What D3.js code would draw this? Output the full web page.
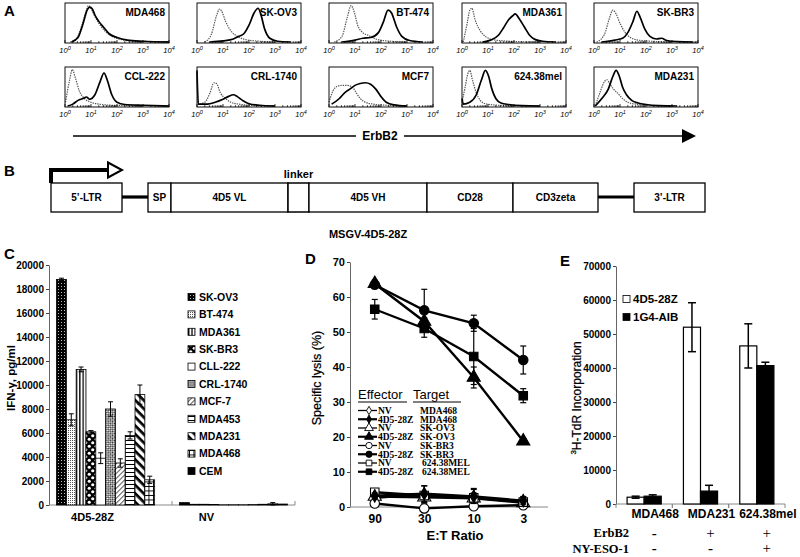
<!DOCTYPE html>
<html><head><meta charset="utf-8">
<script src="https://cdn.jsdelivr.net/npm/d3@7"></script>
<style>body{margin:0;background:#fff;}svg{display:block;}</style>
</head><body>
<svg id="fig" width="800" height="557"></svg>
<script>
// ================= DATA =================
// Panel A: flow histograms  ([log10 intensity, relative count])
const histNames = ["MDA468","SK-OV3","BT-474","MDA361","SK-BR3","CCL-222","CRL-1740","MCF7","624.38mel","MDA231"];
const histControl = [
  [[0.2,0],[0.45,0.1],[0.65,0.45],[0.8,0.8],[0.9,0.97],[1.0,0.9],[1.1,0.75],[1.3,0.5],[1.5,0.32],[1.8,0.15],[2.2,0.06],[2.7,0.02],[3.5,0.01],[4,0]],
  [[0.3,0],[0.55,0.2],[0.75,0.7],[0.87,0.88],[0.95,0.82],[1.1,0.55],[1.3,0.3],[1.55,0.15],[1.9,0.06],[2.4,0.02],[3,0]],
  [[0.2,0],[0.5,0.15],[0.7,0.65],[0.85,0.97],[0.97,0.8],[1.1,0.45],[1.3,0.25],[1.5,0.18],[1.8,0.08],[2.2,0.03],[3,0]],
  [[0.05,0],[0.2,0.5],[0.3,0.85],[0.38,0.9],[0.5,0.6],[0.7,0.3],[0.9,0.15],[1.2,0.06],[1.6,0.03],[2.2,0.01],[3,0]],
  [[0.1,0],[0.4,0.2],[0.6,0.65],[0.72,0.85],[0.85,0.75],[1.0,0.5],[1.2,0.25],[1.4,0.12],[1.7,0.05],[2.2,0.02],[3,0]],
  [[0.02,0.1],[0.18,0.7],[0.28,0.97],[0.4,0.75],[0.55,0.4],[0.75,0.2],[1.0,0.1],[1.3,0.05],[1.8,0.02],[2.5,0.01],[3,0]],
  [[0.0,0.9],[0.05,0.05],[0.3,0.1],[0.5,0.35],[0.65,0.62],[0.75,0.6],[0.9,0.35],[1.1,0.2],[1.3,0.1],[1.6,0.05],[2.0,0.02],[2.5,0]],
  [[0.0,0.1],[0.15,0.4],[0.3,0.52],[0.5,0.55],[0.7,0.55],[0.9,0.5],[1.05,0.35],[1.2,0.2],[1.4,0.1],[1.7,0.05],[2.2,0.02],[3,0]],
  [[0.0,0.1],[0.12,0.5],[0.22,0.85],[0.3,0.95],[0.4,0.7],[0.55,0.35],[0.7,0.15],[0.9,0.06],[1.2,0.03],[1.8,0.01],[2.5,0]],
  [[0.05,0],[0.25,0.4],[0.4,0.65],[0.5,0.7],[0.6,0.6],[0.75,0.45],[0.9,0.35],[1.1,0.2],[1.3,0.1],[1.6,0.05],[2.0,0.02],[2.6,0]]
];
const histStain = [
  [[0.25,0],[0.5,0.12],[0.7,0.5],[0.85,0.85],[0.95,0.93],[1.05,0.88],[1.15,0.72],[1.3,0.55],[1.5,0.38],[1.7,0.22],[2.0,0.12],[2.4,0.05],[3.0,0.02],[4,0]],
  [[0.5,0],[1.0,0.03],[1.4,0.08],[1.6,0.15],[1.8,0.22],[2.0,0.45],[2.2,0.78],[2.35,0.9],[2.45,0.75],[2.6,0.35],[2.8,0.1],[3.1,0.02],[3.6,0]],
  [[0.5,0],[1.0,0.05],[1.3,0.1],[1.6,0.12],[1.9,0.25],[2.1,0.55],[2.27,0.85],[2.4,0.78],[2.6,0.4],[2.8,0.15],[3.1,0.04],[3.6,0]],
  [[0.8,0],[1.1,0.05],[1.4,0.18],[1.6,0.38],[1.8,0.6],[1.95,0.7],[2.05,0.75],[2.2,0.62],[2.4,0.4],[2.6,0.18],[2.8,0.07],[3.1,0.02],[3.6,0]],
  [[0.3,0],[0.8,0.05],[1.1,0.1],[1.3,0.25],[1.5,0.55],[1.65,0.82],[1.78,0.65],[1.95,0.35],[2.15,0.15],[2.4,0.08],[2.6,0.1],[2.8,0.04],[3.2,0.01],[3.8,0]],
  [[0.1,0],[0.3,0.05],[0.5,0.15],[0.7,0.2],[0.82,0.24],[0.95,0.18],[1.15,0.3],[1.35,0.65],[1.5,0.88],[1.62,0.7],[1.8,0.3],[2.0,0.1],[2.3,0.04],[3.0,0.02],[4,0]],
  [[0.0,0.95],[0.05,0.05],[0.4,0.05],[0.7,0.1],[1.0,0.18],[1.2,0.25],[1.4,0.3],[1.55,0.25],[1.75,0.15],[2.0,0.06],[2.4,0.02],[3,0]],
  [[0.1,0.05],[0.4,0.2],[0.6,0.35],[0.8,0.45],[1.0,0.55],[1.2,0.6],[1.4,0.62],[1.6,0.58],[1.8,0.45],[2.0,0.25],[2.2,0.1],[2.5,0.03],[3,0]],
  [[0.0,0.2],[0.05,0.05],[0.3,0.1],[0.55,0.3],[0.75,0.7],[0.9,0.95],[1.02,0.8],[1.15,0.45],[1.3,0.2],[1.5,0.08],[1.8,0.04],[2.3,0.01],[3,0]],
  [[0.05,0],[0.3,0.2],[0.55,0.45],[0.72,0.78],[0.85,0.95],[0.97,0.8],[1.1,0.5],[1.25,0.3],[1.45,0.15],[1.7,0.08],[2.0,0.04],[2.5,0.01],[3.2,0]]
];
const logTicks = [0,1,2,3,4];

// Panel B: vector map
const vectorParts   = ["5\u2019-LTR","","SP","4D5 VL","","4D5 VH","CD28","CD3zeta","","3\u2019-LTR"];
const vectorLengths = [71,26,23,117,21,118,86,85,36,71];
const vectorKinds   = ["box","link","box","box","box","box","box","box","link","box"];

// Panel C: IFN-gamma release
const groupsC = ["4D5-28Z","NV"];
const cellLines = ["SK-OV3","BT-474","MDA361","SK-BR3","CLL-222","CRL-1740","MCF-7","MDA453","MDA231","MDA468","CEM"];
const ifn4D5    = [18800,7100,11300,6100,3900,8000,3500,5800,9200,2100,0];
const ifn4D5Err = [100,500,200,100,450,600,350,300,800,300,0];
const ifnNV     = [200,60,60,40,20,20,20,30,60,100,80];
const ifnNVErr  = [0,0,0,0,0,0,0,0,0,100,0];
const ifnTicks  = [0,2000,4000,6000,8000,10000,12000,14000,16000,18000,20000];

// Panel D: cytotoxicity
const etRatios = ["90","30","10","3"];
const lysisEffector = ["NV","4D5-28Z","NV","4D5-28Z","NV","4D5-28Z","NV","4D5-28Z"];
const lysisTarget   = ["MDA468","MDA468","SK-OV3","SK-OV3","SK-BR3","SK-BR3","624.38MEL","624.38MEL"];
const lysisNV_MDA468   = [2.6,3.6,2.8,1.5];
const lysis28Z_MDA468  = [3.2,3.8,3.0,1.8];
const lysisNV_SKOV3    = [3.0,2.8,2.5,1.2];
const lysis28Z_SKOV3   = [63.8,53.0,37.0,18.8];
const lysisNV_SKBR3    = [1.0,-0.4,0.2,0.5];
const lysis28Z_SKBR3   = [63.5,56.2,52.5,42.0];
const lysisNV_624      = [4.2,3.3,2.6,1.4];
const lysis28Z_624     = [56.5,51.0,43.0,31.8];
const errNV_MDA468  = [0.8,2.5,2.5,1.5];
const err28Z_MDA468 = [0.8,2.2,2.0,1.0];
const errNV_SKOV3   = [1,1.5,1.5,1.5];
const err28Z_SKOV3  = [1,1,3,0.6];
const errNV_SKBR3   = [0.5,1.2,0.5,0.5];
const err28Z_SKBR3  = [1,6,2.3,4];
const errNV_624     = [0.5,1,1,1];
const err28Z_624    = [2.8,2.5,8,2];
const lysisTicks = [0,10,20,30,40,50,60,70];

// Panel E: proliferation
const targetsE = ["MDA468","MDA231","624.38mel"];
const effectorsE = ["4D5-28Z","1G4-AIB"];
const prolif4D5    = [2000,52000,46500];
const prolif4D5Err = [300,7200,6500];
const prolif1G4    = [2300,3800,40700];
const prolif1G4Err = [400,1700,1000];
const erbb2Status  = ["-","+","+"];
const nyesoStatus  = ["-","-","+"];
const prolifTicks  = [0,10000,20000,30000,40000,50000,60000,70000];

// ================= DRAWING =================
const SANS = "Arial, 'Liberation Sans', Helvetica, sans-serif";
const NARROW = "'Liberation Sans Narrow', 'Arial Narrow', Arial, 'Liberation Sans', sans-serif";
const SERIF = "'Times New Roman', 'Liberation Serif', serif";
const svg = d3.select("#fig");
svg.append("rect").attr("width",800).attr("height",557).attr("fill","#fff");
const defs = svg.append("defs");

function txt(g, t, x, y, size, opts={}) {
  return g.append("text").attr("x",x).attr("y",y).text(t)
    .attr("font-family", opts.family || SANS)
    .attr("font-weight", opts.weight || "bold")
    .attr("font-size", size)
    .attr("text-anchor", opts.anchor || "start")
    .attr("fill","#000");
}
// panel letters
txt(svg,"A",4,16,15); txt(svg,"B",4,176,15); txt(svg,"C",4,259,15); txt(svg,"D",305,264,15); txt(svg,"E",560,266,15);

// ---------- Panel A ----------
const colX = [65,197,329,462,594];
const rowY = [3,67];
const boxW = 104, boxH = 40;
histNames.forEach((name,i)=>{
  const r = Math.floor(i/5), c = i%5;
  const x0 = colX[c], y0 = rowY[r];
  const xs = d3.scaleLog().domain([1,1e4]).range([x0, x0+boxW]);
  const ys = d3.scaleLinear().domain([0,1]).range([y0+boxH-1, y0+1.5]);
  const g = svg.append("g");
  const line = d3.line().x(d=>xs(Math.pow(10,d[0]))).y(d=>ys(d[1])).curve(d3.curveMonotoneX);
  g.append("path").attr("d", line(histControl[i])).attr("fill","none")
    .attr("stroke","#555").attr("stroke-width",1.2).attr("stroke-dasharray","1.4,1");
  g.append("path").attr("d", line(histStain[i])).attr("fill","none")
    .attr("stroke","#000").attr("stroke-width",1.7).attr("stroke-linejoin","round");
  g.append("rect").attr("x",x0).attr("y",y0).attr("width",boxW).attr("height",boxH)
    .attr("fill","none").attr("stroke","#111").attr("stroke-width",1);
  const minor = [];
  for (let e=0;e<4;e++) for (let m=1;m<10;m++) minor.push(Math.pow(10,e)*m);
  minor.push(1e4);
  g.selectAll("line.mt").data(minor).enter().append("line")
    .attr("x1",d=>xs(d)).attr("x2",d=>xs(d))
    .attr("y1",y0+boxH).attr("y2",d=>y0+boxH-(Math.log10(d)%1===0?3:1.8))
    .attr("stroke","#000").attr("stroke-width",0.8);
  txt(g, name, x0+boxW-4, y0+13, 10, {anchor:"end"});
  logTicks.forEach(e=>{
    const t = g.append("text").attr("x", xs(Math.pow(10,e))).attr("y", y0+boxH+10)
      .attr("font-family",SANS).attr("font-size",7.5).attr("font-style","italic")
      .attr("text-anchor","middle").text("10");
    t.append("tspan").attr("font-size",5.5).attr("dy",-3).text(e);
  });
});
// ErbB2 arrow
svg.append("line").attr("x1",73).attr("x2",356).attr("y1",136).attr("y2",136).attr("stroke","#000").attr("stroke-width",1.5);
svg.append("line").attr("x1",404).attr("x2",686).attr("y1",136).attr("y2",136).attr("stroke","#000").attr("stroke-width",1.5);
svg.append("path").attr("d","M682,129 L696,136 L682,143 Z").attr("fill","#000");
txt(svg,"ErbB2",380,140,12,{anchor:"middle"});

// ---------- Panel B ----------
const total = d3.sum(vectorLengths);
const xB = d3.scaleLinear().domain([0,total]).range([51,705]);
const cum = d3.cumsum(vectorLengths);
const bTop = 183, bBot = 212;
const gB = svg.append("g");
vectorParts.forEach((p,i)=>{
  const s = i===0?0:cum[i-1], e = cum[i];
  if (vectorKinds[i]==="link") {
    gB.append("line").attr("x1",xB(s)).attr("x2",xB(e)).attr("y1",197).attr("y2",197)
      .attr("stroke","#000").attr("stroke-width",3.2);
  } else {
    gB.append("rect").attr("x",xB(s)).attr("y",bTop).attr("width",xB(e)-xB(s)).attr("height",bBot-bTop)
      .attr("fill","#fff").attr("stroke","#000").attr("stroke-width", i===4?1.5:1.3);
    if (p) txt(gB,p,(xB(s)+xB(e))/2,201,10,{anchor:"middle"});
  }
});
// promoter arrow
gB.append("path").attr("d",`M${xB(0)},${bTop} L${xB(0)},170 L109,170`).attr("fill","none")
  .attr("stroke","#000").attr("stroke-width",4);
gB.append("path").attr("d","M108,162.5 L122,170 L108,177.5 Z").attr("fill","#fff").attr("stroke","#000").attr("stroke-width",2);
txt(gB,"linker",(xB(cum[3])+xB(cum[4]))/2,178,11,{anchor:"middle"});
txt(gB,"MSGV-4D5-28Z",368,238,11,{anchor:"middle"});

// ---------- Patterns ----------
function pat(id,w,h,draw,tr){
  const p = defs.append("pattern").attr("id",id).attr("patternUnits","userSpaceOnUse").attr("width",w).attr("height",h);
  if (tr) p.attr("patternTransform",tr);
  draw(p);
}
const R = (p,x,y,w,h,f)=>p.append("rect").attr("x",x).attr("y",y).attr("width",w).attr("height",h).attr("fill",f);
pat("pSKOV3",3,3,p=>{R(p,0,0,3,3,"#000");R(p,1,1,1,1,"#bbb");});
pat("pBT474",2,2,p=>{R(p,0,0,2,2,"#fff");R(p,0,0,1,1,"#555");});
pat("pMDA361",3.3,4,p=>{R(p,0,0,3.3,4,"#fff");R(p,0,0,1.3,4,"#000");});
pat("pSKBR3",7,7,p=>{R(p,0,0,7,7,"#000");
  p.append("circle").attr("cx",1.75).attr("cy",1.75).attr("r",1.6).attr("fill","#fff");
  p.append("circle").attr("cx",5.25).attr("cy",5.25).attr("r",1.6).attr("fill","#fff");});
pat("pCLL",4,4,p=>{R(p,0,0,4,4,"#fff");});
pat("pCRL",3,3,p=>{R(p,0,0,3,3,"#fff");R(p,0,0,1.5,1.5,"#222");R(p,1.5,1.5,1.5,1.5,"#222");},"rotate(45)");
pat("pMCF7",3.5,3.5,p=>{R(p,0,0,3.5,3.5,"#fff");R(p,0,0,3.5,1,"#555");},"rotate(-45)");
pat("pMDA453",10,4,p=>{R(p,0,0,10,4,"#fff");R(p,0,0,10,1,"#000");R(p,4.5,0,1,4,"#000");});
pat("pMDA231",6,6,p=>{R(p,0,0,6,6,"#fff");R(p,0,0,6,2.7,"#000");},"rotate(45)");
pat("pMDA468",4.5,4.5,p=>{R(p,0,0,4.5,4.5,"#fff");R(p,0,0,4.5,0.9,"#000");R(p,0,0,0.9,4.5,"#000");});
const cellFill = ["url(#pSKOV3)","url(#pBT474)","url(#pMDA361)","url(#pSKBR3)","url(#pCLL)","url(#pCRL)","url(#pMCF7)","url(#pMDA453)","url(#pMDA231)","url(#pMDA468)","#000"];

function styleAxis(g,family,size){
  g.attr("font-family",family).attr("font-size",size).attr("font-weight","bold");
  g.selectAll("text").attr("fill","#000");
  g.select(".domain").attr("stroke","#666");
  g.selectAll(".tick line").attr("stroke","#444");
}

// ---------- Panel C ----------
const gC = svg.append("g");
const xC = d3.scaleBand().domain(groupsC).range([49,295]);
const xCin = d3.scaleBand().domain(cellLines).range([0,xC.bandwidth()]).paddingOuter(0.77);
const yC = d3.scaleLinear().domain([0,20000]).range([505,265]);
const ayC = gC.append("g").attr("transform","translate(49,0)")
  .call(d3.axisLeft(yC).tickValues(ifnTicks).tickFormat(d3.format("d")).tickSize(3).tickPadding(2).tickSizeOuter(0));
styleAxis(ayC,NARROW,10);
gC.append("line").attr("x1",49).attr("x2",295).attr("y1",505).attr("y2",505).attr("stroke","#888");
groupsC.forEach(gname=>{
  const x = xC(gname)+xC.bandwidth();
  gC.append("line").attr("x1",x).attr("x2",x).attr("y1",505).attr("y2",501).attr("stroke","#888");
});
const groupVals = [ifn4D5, ifnNV], groupErr = [ifn4D5Err, ifnNVErr];
groupsC.forEach((gname,gi)=>{
  cellLines.forEach((cl,ci)=>{
    const v = groupVals[gi][ci], e = groupErr[gi][ci];
    const x = xC(gname)+xCin(cl), w = xCin.bandwidth();
    if (v>0) gC.append("rect").attr("x",x).attr("y",yC(v)).attr("width",w).attr("height",yC(0)-yC(v))
      .attr("fill",cellFill[ci]).attr("stroke","#000").attr("stroke-width",0.8);
    if (e>0) {
      const cx = x+w/2;
      gC.append("line").attr("x1",cx).attr("x2",cx).attr("y1",yC(v+e)).attr("y2",yC(v-e)).attr("stroke","#000").attr("stroke-width",1);
      [v+e,v-e].forEach(t=>gC.append("line").attr("x1",cx-2.5).attr("x2",cx+2.5).attr("y1",yC(t)).attr("y2",yC(t)).attr("stroke","#000").attr("stroke-width",1));
    }
  });
});
txt(gC,"4D5-28Z",xC("4D5-28Z")+xC.bandwidth()/2-18,521,11,{anchor:"middle"});
txt(gC,"NV",xC("NV")+xC.bandwidth()/2-27,521,11,{anchor:"middle"});
txt(gC,"IFN-\u03b3, pg/ml",0,0,11.5,{anchor:"middle"}).attr("transform","translate(15,378) rotate(-90)");
// legend
cellLines.forEach((cl,ci)=>{
  const y = 297 + ci*17.4;
  gC.append("rect").attr("x",188).attr("y",y-3.5).attr("width",7).attr("height",7)
    .attr("fill",cellFill[ci]).attr("stroke","#000").attr("stroke-width",0.8);
  txt(gC,cl,199,y+3.8,10.5,{family:NARROW});
});

// ---------- Panel D ----------
const gD = svg.append("g");
const xD = d3.scalePoint().domain(etRatios).range([350,548]).padding(0.5);
const yD = d3.scaleLinear().domain([0,70]).range([507,262]);
const ayD = gD.append("g").attr("transform","translate(350,0)")
  .call(d3.axisLeft(yD).tickValues(lysisTicks).tickSize(3).tickPadding(2).tickSizeOuter(0));
styleAxis(ayD,SANS,11);
gD.append("line").attr("x1",350).attr("x2",548).attr("y1",507).attr("y2",507).attr("stroke","#888");
const axD = gD.append("g").attr("transform","translate(0,507)")
  .call(d3.axisBottom(xD).tickSize(0).tickPadding(7));
styleAxis(axD,SANS,12); axD.select(".domain").remove();
txt(gD,"E:T Ratio",455,540,13,{anchor:"middle"});
txt(gD,"Specific lysis (%)",0,0,12.5,{anchor:"middle",weight:"normal"}).attr("transform","translate(321,378) rotate(-90)")
  .attr("stroke","#000").attr("stroke-width",0.25);

const lysisVals = [lysisNV_MDA468,lysis28Z_MDA468,lysisNV_SKOV3,lysis28Z_SKOV3,lysisNV_SKBR3,lysis28Z_SKBR3,lysisNV_624,lysis28Z_624];
const lysisErrs = [errNV_MDA468,err28Z_MDA468,errNV_SKOV3,err28Z_SKOV3,errNV_SKBR3,err28Z_SKBR3,errNV_624,err28Z_624];
const symFor = t => t==="MDA468"?d3.symbolDiamond : t==="SK-OV3"?d3.symbolTriangle : t==="SK-BR3"?d3.symbolCircle : d3.symbolSquare;
const symSize = t => t==="MDA468"?45 : t==="SK-OV3"?75 : t==="SK-BR3"?70 : 72;
const lineD = d3.line().x((d,i)=>xD(etRatios[i])).y(d=>yD(d));
const order = [0,2,4,6,1,3,5,7];
order.forEach(si=>{
  const vals = lysisVals[si], errs = lysisErrs[si];
  const filled = lysisEffector[si]==="4D5-28Z";
  gD.append("path").attr("d",lineD(vals)).attr("fill","none").attr("stroke","#000").attr("stroke-width",2.4);
  vals.forEach((v,i)=>{
    const cx = xD(etRatios[i]);
    gD.append("line").attr("x1",cx).attr("x2",cx).attr("y1",yD(v+errs[i])).attr("y2",yD(v-errs[i])).attr("stroke","#000").attr("stroke-width",1.2);
    [v+errs[i],v-errs[i]].forEach(t=>gD.append("line").attr("x1",cx-3).attr("x2",cx+3).attr("y1",yD(t)).attr("y2",yD(t)).attr("stroke","#000").attr("stroke-width",1.2));
  });
  gD.selectAll(null).data(vals).enter().append("path")
    .attr("transform",(d,i)=>`translate(${xD(etRatios[i])},${yD(d)})`)
    .attr("d",d3.symbol().type(symFor(lysisTarget[si])).size(symSize(lysisTarget[si])))
    .attr("fill",filled?"#000":"#fff").attr("stroke","#000").attr("stroke-width",1.1);
});
// D legend
const lg = gD.append("g");
lg.append("rect").attr("x",355).attr("y",384).attr("width",112).attr("height",90).attr("fill","#fff");
txt(lg,"Effector",358,399,13,{weight:"normal"});
txt(lg,"Target",413,399,13,{weight:"normal"});
lg.append("line").attr("x1",358).attr("x2",407).attr("y1",402).attr("y2",402).attr("stroke","#000").attr("stroke-width",1);
lg.append("line").attr("x1",413).attr("x2",461).attr("y1",402).attr("y2",402).attr("stroke","#000").attr("stroke-width",1);
lysisEffector.forEach((eff,si)=>{
  const y = 410.5 + si*8.75;
  const filled = eff==="4D5-28Z";
  lg.append("line").attr("x1",358).attr("x2",377).attr("y1",y).attr("y2",y).attr("stroke","#000").attr("stroke-width",filled?2.2:1.3);
  lg.append("path").attr("transform",`translate(369,${y})`)
    .attr("d",d3.symbol().type(symFor(lysisTarget[si])).size(symSize(lysisTarget[si])*0.45))
    .attr("fill",filled?"#000":"#fff").attr("stroke","#000").attr("stroke-width",0.9);
  txt(lg,eff,378,y+3.3,9.5,{family:SERIF});
  txt(lg,lysisTarget[si],lysisTarget[si]==="624.38MEL"?422:420,y+3.3,9.5,{family:SERIF});
});

// ---------- Panel E ----------
const gE = svg.append("g");
const xE = d3.scaleBand().domain(targetsE).range([616,785]);
const xEin = d3.scaleBand().domain(effectorsE).range([0,xE.bandwidth()]).paddingOuter(0.65);
const yE = d3.scaleLinear().domain([0,70000]).range([504,266]);
const ayE = gE.append("g").attr("transform","translate(616,0)")
  .call(d3.axisLeft(yE).tickValues(prolifTicks).tickFormat(d3.format("d")).tickSize(3).tickPadding(2).tickSizeOuter(0));
styleAxis(ayE,NARROW,10);
gE.append("line").attr("x1",616).attr("x2",785).attr("y1",504).attr("y2",504).attr("stroke","#888");
targetsE.forEach(t=>{
  [xE(t), xE(t)+xE.bandwidth()].forEach(x=>gE.append("line").attr("x1",x).attr("x2",x).attr("y1",504).attr("y2",508).attr("stroke","#888"));
});
const eVals = [prolif4D5, prolif1G4], eErrs = [prolif4D5Err, prolif1G4Err];
effectorsE.forEach((ef,ei)=>{
  targetsE.forEach((t,ti)=>{
    const v = eVals[ei][ti], e = eErrs[ei][ti];
    const x = xE(t)+xEin(ef), w = xEin.bandwidth();
    gE.append("rect").attr("x",x).attr("y",yE(v)).attr("width",w).attr("height",yE(0)-yE(v))
      .attr("fill",ei===0?"#fff":"#000").attr("stroke","#000").attr("stroke-width",1.2);
    const cx = x+w/2;
    gE.append("line").attr("x1",cx).attr("x2",cx).attr("y1",yE(v+e)).attr("y2",yE(v-e)).attr("stroke","#000").attr("stroke-width",1.5);
    [v+e,v-e].forEach(tv=>gE.append("line").attr("x1",cx-4).attr("x2",cx+4).attr("y1",yE(tv)).attr("y2",yE(tv)).attr("stroke","#000").attr("stroke-width",1.5));
  });
  const ly = 299 + ei*18;
  gE.append("rect").attr("x",623).attr("y",ly-3.5).attr("width",7).attr("height",7)
    .attr("fill",ei===0?"#fff":"#000").attr("stroke","#000").attr("stroke-width",0.8);
  txt(gE,ef,633,ly+4,11.5);
});
targetsE.forEach((t,ti)=>{
  const cx = xE(t)+xE.bandwidth()/2;
  txt(gE,t,cx+11,518,12,{anchor:"middle"});
  txt(gE,erbb2Status[ti],cx+10,538,15,{anchor:"middle",family:SERIF,weight:erbb2Status[ti]==="-"?"bold":"normal"});
  txt(gE,nyesoStatus[ti],cx+10,553,15,{anchor:"middle",family:SERIF,weight:nyesoStatus[ti]==="-"?"bold":"normal"});
});
txt(gE,"ErbB2",629,537,12.5,{anchor:"end",family:SERIF});
txt(gE,"NY-ESO-1",629,553,12.5,{anchor:"end",family:SERIF});
const yl = gE.append("text").attr("transform","translate(581,398) rotate(-90)")
  .attr("font-family",SANS).attr("font-size",12).attr("font-weight","normal").attr("text-anchor","middle")
  .attr("stroke","#000").attr("stroke-width",0.25);
yl.append("tspan").attr("font-size",8).attr("dy",-5).text("3");
yl.append("tspan").attr("dy",5).text("H-TdR Incorporation");
</script>
</body></html>
